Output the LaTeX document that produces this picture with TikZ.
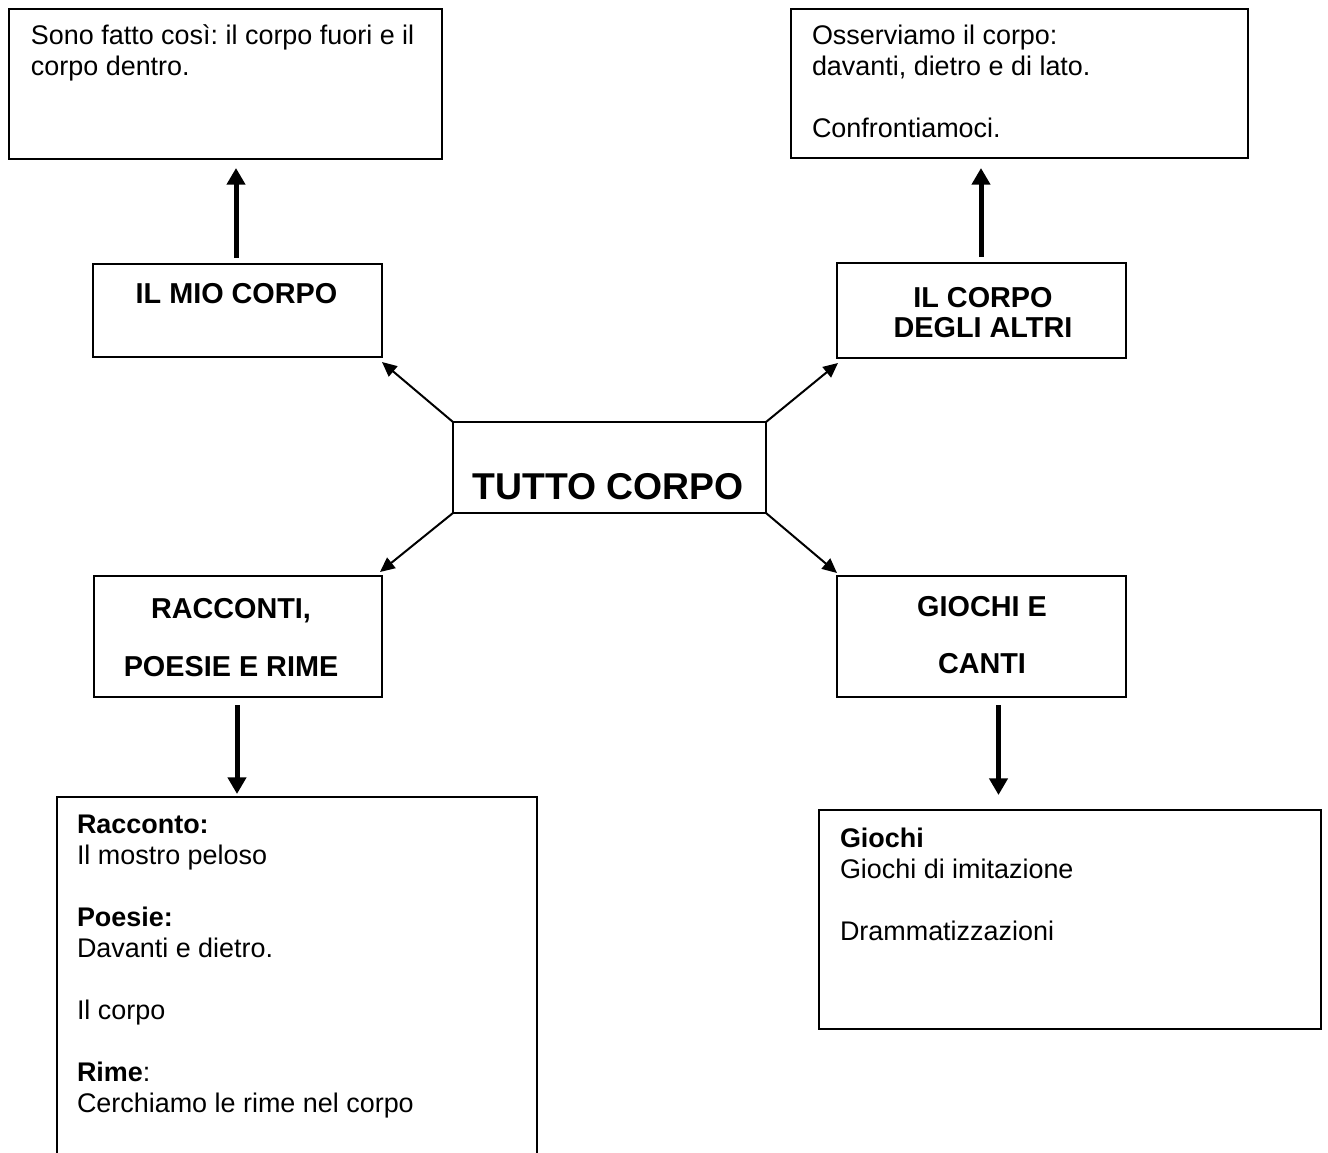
\documentclass[tikz,border=0pt]{standalone}
\usepackage{fontspec}
\setmainfont{Liberation Sans}
\usetikzlibrary{arrows.meta,calc}
\frenchspacing
\def\px{0.75pt}
\newcommand\ltext[2]{\vtop{\baselineskip=#1\lineskiplimit=-\maxdimen\halign{##\hfil\cr#2\crcr}}}
\newcommand\ctext[2]{\vtop{\baselineskip=#1\lineskiplimit=-\maxdimen\halign{\hfil##\hfil\cr#2\crcr}}}
\begin{document}
\begin{tikzpicture}[x=0.75pt,y=-0.75pt,
  box/.style={draw, line width=1.5pt, anchor=north west, inner sep=0pt, outer sep=0pt},
  txt/.style={inner sep=0pt, outer sep=0pt, anchor=base west, font=\frenchspacing\fontsize{20.2}{23.25}\selectfont},
  head/.style={inner sep=0pt, outer sep=0pt, anchor=base, font=\bfseries\fontsize{21.6}{22.5}\selectfont},
  arrthin/.style={line width=1.5pt, -{Triangle[length=11pt,width=10pt]}},
  arrthick/.style={line width=3.75pt, -{Triangle[length=12.5pt,width=13.5pt]}}]
\useasboundingbox (0,0) rectangle (1328,1153);
\clip (0,0) rectangle (1328,1153);

% boxes
\node[box, minimum width=433*\px, minimum height=150*\px] (tl) at (9,9) {};
\node[box, minimum width=457*\px, minimum height=149*\px] (tr) at (791,9) {};
\node[box, minimum width=289*\px, minimum height=93*\px] (mio) at (93,264) {};
\node[box, minimum width=289*\px, minimum height=95*\px] (altri) at (837,263) {};
\node[box, minimum width=313*\px, minimum height=91*\px] (tc) at (453,422) {};
\node[box, minimum width=288*\px, minimum height=121*\px] (racc) at (94,576) {};
\node[box, minimum width=289*\px, minimum height=121*\px] (gioc) at (837,576) {};
\node[box, minimum width=480*\px, minimum height=400*\px] (bl) at (57,797) {};
\node[box, minimum width=502*\px, minimum height=219*\px] (br) at (819,810) {};

% texts
\node[txt] (tlt) at ($(tl.north west)+(22,35)$)
  {\ltext{23.25pt}{Sono fatto così: il corpo fuori e il\cr corpo dentro.}};
\node[txt] (trt) at ($(tr.north west)+(21,35)$)
  {\ltext{23.25pt}{Osserviamo il corpo:\cr davanti, dietro e di lato.\cr\cr Confrontiamoci.}};
\node[txt] (blt) at ($(bl.north west)+(20,36)$)
  {\ltext{23.25pt}{\textbf{Racconto:}\cr Il mostro peloso\cr\cr \textbf{Poesie:}\cr Davanti e dietro.\cr\cr Il corpo\cr\cr \textbf{Rime}:\cr Cerchiamo le rime nel corpo}};
\node[txt] (brt) at ($(br.north west)+(21,37)$)
  {\ltext{23.25pt}{\textbf{Giochi}\cr Giochi di imitazione\cr\cr Drammatizzazioni}};

\node[head] (miot) at ($(mio.north)+(-1,39)$) {IL MIO CORPO};
\node[head] (altrit) at ($(altri.north)+(1.5,44)$) {\ctext{22.5pt}{IL CORPO\cr DEGLI ALTRI}};
\node[head, font=\bfseries\fontsize{28}{30}\selectfont] (tct) at ($(tc.north)+(-1.5,77)$) {TUTTO CORPO};
\node[head] (racct) at ($(racc.north)+(-7,42)$) {\ctext{22pt}{RACCONTI,\cr\cr POESIE E RIME}};
\node[head] (gioct) at ($(gioc.north)+(0.5,40)$) {\ctext{21.5pt}{GIOCHI E\cr\cr CANTI}};

% thin arrows from the centre
\draw[arrthin] (tc.north west) -- ($(mio.south east)+(0,5)$);
\draw[arrthin] (tc.north east) -- ($(altri.south west)+(1,5)$);
\draw[arrthin] (tc.south west) -- ($(racc.north east)+(-2,-4)$);
\draw[arrthin] (tc.south east) -- ($(gioc.north west)+(0,-3)$);

% thick arrows
\coordinate (m0) at ($(mio.north)+(-1.5,-6)$);
\draw[arrthick, shorten >=6.75pt] (m0) -- (m0 |- tl.south);
\coordinate (a0) at ($(altri.north)+(-0.5,-6)$);
\draw[arrthick, shorten >=7.5pt] (a0) -- (a0 |- tr.south);
\coordinate (r0) at ($(racc.south)+(-1,8)$);
\draw[arrthick, shorten >=2.25pt] (r0) -- (r0 |- bl.north);
\coordinate (g0) at ($(gioc.south)+(17,8)$);
\draw[arrthick, shorten >=11.25pt] (g0) -- (g0 |- br.north);
\end{tikzpicture}
\end{document}
